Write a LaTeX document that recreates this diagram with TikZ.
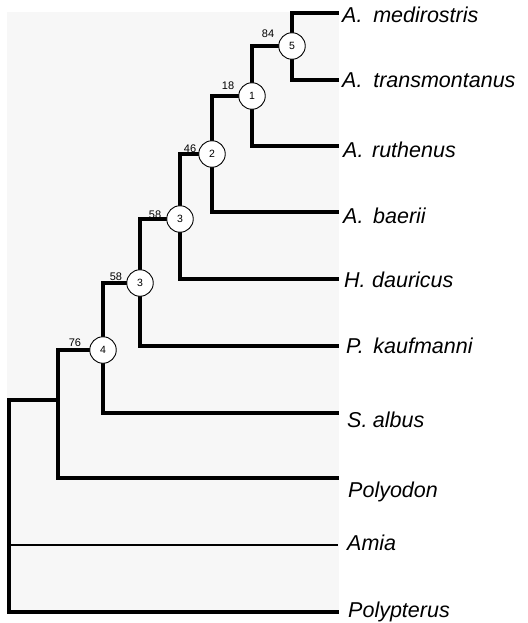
\documentclass[tikz,border=0pt]{standalone}
\usepackage{fontspec}
\setmainfont{Liberation Sans}
\definecolor{panel}{HTML}{F7F7F7}
\begin{document}
\begin{tikzpicture}[x=1pt,y=-1pt,
  branch/.style={line width=3.3pt,line cap=rect,line join=miter},
  thinbranch/.style={line width=2.6pt,line cap=rect},
  knot/.style={circle,draw,line width=0.9pt,fill=white,minimum size=26.5pt,inner sep=0pt,font=\fontsize{10.5}{12}\selectfont},
  boot/.style={font=\fontsize{11}{12}\selectfont,inner sep=0pt},
  taxon/.style={anchor=base west,inner sep=0pt,font=\fontsize{21.5}{24}\selectfont\itshape}]
\useasboundingbox (0,0) rectangle (527,623);
\fill[panel] (7,12) rectangle (339,613);
% tip coordinates
\coordinate (tmed) at (337,13);
\coordinate (ttra) at (337,80);
\coordinate (trut) at (337,146);
\coordinate (tbae) at (337,212);
\coordinate (tdau) at (337,279);
\coordinate (tkau) at (337,346);
\coordinate (talb) at (337,413);
\coordinate (tpol) at (337,478);
\coordinate (tami) at (337,545);
\coordinate (tpty) at (337,612);
\coordinate (cpol) at (58,478);
\coordinate (rj) at (58,400);
\coordinate (rtop) at (9,400);
\coordinate (rami) at (9,545);
\coordinate (rbot) at (9,612);
% circle node positions
\path (292,46) coordinate (p5) (252,96) coordinate (p1) (212,154) coordinate (p2)
      (180,219) coordinate (p3a) (140,283) coordinate (p3b) (103,350) coordinate (p4);
\node[knot,draw=none,fill=none] (n5) at (p5) {};
\node[knot,draw=none,fill=none] (n1) at (p1) {};
\node[knot,draw=none,fill=none] (n2) at (p2) {};
\node[knot,draw=none,fill=none] (n3a) at (p3a) {};
\node[knot,draw=none,fill=none] (n3b) at (p3b) {};
\node[knot,draw=none,fill=none] (n4) at (p4) {};
% branches
\draw[branch] (n5.center) |- (tmed);
\draw[branch] (n5.center) |- (ttra);
\draw[branch] (n5.center) -| (n1.center);
\draw[branch] (n1.center) |- (trut);
\draw[branch] (n1.center) -| (n2.center);
\draw[branch] (n2.center) |- (tbae);
\draw[branch] (n2.center) -| (n3a.center);
\draw[branch] (n3a.center) |- (tdau);
\draw[branch] (n3a.center) -| (n3b.center);
\draw[branch] (n3b.center) |- (tkau);
\draw[branch] (n3b.center) -| (n4.center);
\draw[branch] (n4.center) |- (talb);
\draw[branch] (n4.center) -| (cpol) -- (tpol);
\draw[branch] (rj) -- (rtop) -- (rbot) -- (tpty);
\draw[thinbranch] (rami) -- (tami);
% circles
\node[knot] at (p5) {5};
\node[knot] at (p1) {1};
\node[knot] at (p2) {2};
\node[knot] at (p3a) {3};
\node[knot] at (p3b) {3};
\node[knot] at (p4) {4};
% bootstrap values
\node[boot] (b84) at (268,34) {84};
\node[boot] (b18) at (228,86) {18};
\node[boot] (b46) at (190,149) {46};
\node[boot] (b58a) at (155,215) {58};
\node[boot] (b58b) at (116,277) {58};
\node[boot] (b76) at (75,343) {76};
% taxa
\node[taxon] (lmed) at (342,23) {A.\hspace{0.5em}medirostris};
\node[taxon] (ltra) at (342,88) {A.\hspace{0.5em}transmontanus};
\node[taxon] (lrut) at (343,157) {A.\hspace{0.4em}ruthenus};
\node[taxon] (lbae) at (343,223) {A.\hspace{0.45em}baerii};
\node[taxon] (ldau) at (344,287) {H.\hspace{0.3em}dauricus};
\node[taxon] (lkau) at (346,353) {P.\hspace{0.45em}kaufmanni};
\node[taxon] (lalb) at (347,427) {S.\hspace{0.25em}albus};
\node[taxon] (lpol) at (348,497) {Polyodon};
\node[taxon] (lami) at (347,550) {Amia};
\node[taxon] (lpty) at (348,617) {Polypterus};
\end{tikzpicture}
\end{document}
